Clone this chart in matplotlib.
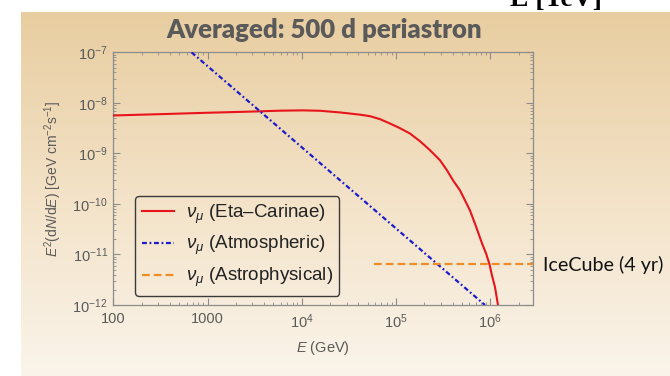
import numpy as np
import matplotlib
matplotlib.use("Agg")
import matplotlib.pyplot as plt
from matplotlib.ticker import FixedLocator, NullFormatter, LogLocator

plt.rcParams['font.family'] = ['Liberation Sans', 'DejaVu Sans']
plt.rcParams['mathtext.fontset'] = 'custom'
plt.rcParams['mathtext.rm'] = 'Liberation Sans'
plt.rcParams['mathtext.it'] = 'Liberation Sans:italic'
plt.rcParams['mathtext.bf'] = 'Liberation Sans:bold'

# ---- data (as log10 values) ----
eta_logE = [2.000, 2.496, 3.005, 3.504, 3.770, 4.014, 4.195, 4.407, 4.619, 4.725,
            4.831, 4.937, 5.043, 5.149, 5.256, 5.362, 5.468, 5.542, 5.606, 5.680,
            5.733, 5.786, 5.850, 5.914, 5.957, 5.992, 6.020, 6.052, 6.087]
eta_logF = [-8.250, -8.224, -8.196, -8.171, -8.155, -8.149, -8.157, -8.190, -8.234, -8.264,
            -8.323, -8.409, -8.502, -8.607, -8.760, -8.938, -9.137, -9.335, -9.534, -9.732,
            -9.930, -10.129, -10.446, -10.783, -10.982, -11.187, -11.419, -11.651, -12.048]
atm_E = [676, 8.8e5]
atm_flux = [1e-7, 1e-12]
astro_E = [5.8e4, 2.85e6]
astro_flux = [6.5e-12, 6.5e-12]

labels = [r"$\nu_\mu$ (Eta–Carinae)", r"$\nu_\mu$ (Atmospheric)", r"$\nu_\mu$ (Astrophysical)"]
xticks = [100, 1000, 1e4, 1e5, 1e6]
xticklabels = ["100", "1000", r"$10^4$", r"$10^5$", r"$10^6$"]
yticks = [1e-12, 1e-11, 1e-10, 1e-9, 1e-8, 1e-7]
yticklabels = [r"$10^{-12}$", r"$10^{-11}$", r"$10^{-10}$", r"$10^{-9}$", r"$10^{-8}$", r"$10^{-7}$"]

eta_E = 10.0 ** np.array(eta_logE)
eta_flux = 10.0 ** np.array(eta_logF)

W, H = 670, 376
fig = plt.figure(figsize=(W/100, H/100), dpi=100)
fig.patch.set_facecolor('white')

# background gradient panel
bg = fig.add_axes([21/W, 0, 1-21/W, 1-12/H])
top = np.array([232, 205, 160]) / 255
mid = np.array([243, 226, 199]) / 255
bot = np.array([250, 244, 234]) / 255
t = np.linspace(0, 1, 256)[:, None]
grad = np.where(t < 0.5, top + (mid-top)*(t/0.5), mid + (bot-mid)*((t-0.5)/0.5))
bg.imshow(grad[:, None, :], aspect='auto', extent=[0, 1, 0, 1])
bg.set_axis_off()
bg.set_zorder(-5)

ax = fig.add_axes([113.3/W, 1-305/H, (533-113.3)/W, (305-52.3)/H])
ax.set_facecolor('none')
ax.set_xscale('log')
ax.set_yscale('log')
ax.set_xlim(100, 2.85e6)
ax.set_ylim(1e-12, 1e-7)

ax.plot(eta_E, eta_flux, color='#e8141c', lw=1.5, label=labels[0], zorder=3)
ax.plot(atm_E, atm_flux, color='#1c1ccc', lw=1.6, dashes=(2.2, 1.2, 0.8, 1.2), label=labels[1], zorder=3)
ax.plot(astro_E, astro_flux, color='#f08c28', lw=1.6, dashes=(3.5, 1.8), label=labels[2], zorder=3)

spine_c = '#8c8c8c'
for s in ax.spines.values():
    s.set_color(spine_c)
    s.set_linewidth(0.9)
ax.xaxis.set_major_locator(FixedLocator(xticks))
ax.set_xticklabels(xticklabels)
ax.yaxis.set_major_locator(FixedLocator(yticks))
ax.set_yticklabels(yticklabels)
ax.xaxis.set_minor_locator(LogLocator(base=10, subs=np.arange(2, 10)))
ax.yaxis.set_minor_locator(LogLocator(base=10, subs=np.arange(2, 10)))
ax.xaxis.set_minor_formatter(NullFormatter())
ax.yaxis.set_minor_formatter(NullFormatter())
ax.tick_params(which='both', direction='in', top=True, right=True, color=spine_c,
               labelcolor='#5a5a5a', labelsize=10.5)
ax.tick_params(which='major', length=5, width=0.8)
ax.tick_params(which='minor', length=2.5, width=0.6)
ax.tick_params(axis='x', pad=5)
ax.tick_params(axis='y', pad=4)

ax.set_xlabel(r"$E$ (GeV)", color='#5a5a5a', fontsize=10.5, labelpad=6)
ax.set_ylabel(r"$E^2(\mathrm{d}N/\mathrm{d}E)$ [GeV cm$^{-2}$s$^{-1}$]", color='#5a5a5a',
              fontsize=10, labelpad=6)

leg = ax.legend(loc='upper left', bbox_to_anchor=(0.052, 0.431), borderaxespad=0,
                fontsize=13.5, handlelength=1.75, labelspacing=0.45, handletextpad=0.6,
                borderpad=0.35, fancybox=True, framealpha=1, facecolor='none',
                edgecolor='#3a3a3a')
leg.get_frame().set_linewidth(1.0)
for txt in leg.get_texts():
    txt.set_color('#222222')

fig.text(324/W, 1-30/H, "Averaged: 500 d periastron", ha='center', va='center',
         fontsize=18.5, fontweight='heavy', color='#5a5a5a', family=['Lato', 'DejaVu Sans'])
fig.text(543/W, 1-265/H, "IceCube (4 yr)", ha='left', va='center',
         fontsize=14.2, color='#111111', family=['Lato', 'DejaVu Sans'])
fig.text(510/W, 1-5.5/H, r"E [TeV]", ha='left', va='baseline', fontsize=20,
         fontweight='bold', color='black', family=['Liberation Serif', 'DejaVu Serif'])

fig.savefig("out.png", dpi=100)
